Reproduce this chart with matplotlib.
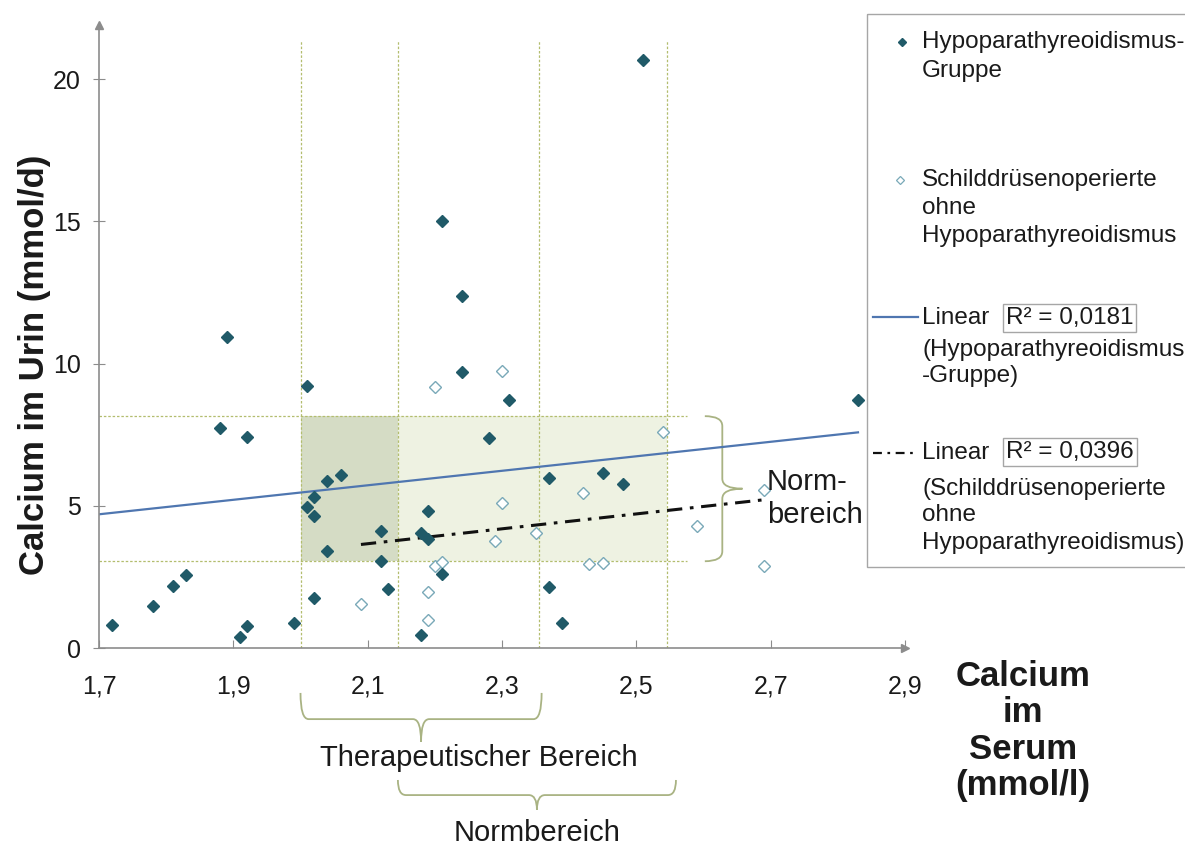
import numpy as np
import matplotlib.pyplot as plt
from matplotlib.path import Path
from matplotlib.patches import PathPatch, Rectangle

plt.rcParams['font.family'] = ['Liberation Sans', 'DejaVu Sans']

# Hypoparathyreoidismus-Gruppe (serum, urine)
hypo_x = [1.72, 1.78, 1.81, 1.83, 1.88, 1.89, 1.91, 1.92, 1.92, 1.99,
          2.01, 2.01, 2.02, 2.02, 2.02, 2.04, 2.04, 2.06, 2.12, 2.12,
          2.13, 2.18, 2.18, 2.19, 2.19, 2.21, 2.21, 2.24, 2.24, 2.28,
          2.31, 2.37, 2.37, 2.39, 2.45, 2.48, 2.51, 2.83]
hypo_y = [0.81, 1.48, 2.19, 2.57, 7.72, 10.94, 0.38, 0.78, 7.40, 0.87,
          9.21, 4.94, 5.32, 4.65, 1.75, 5.88, 3.40, 6.08, 4.12, 3.05,
          2.06, 4.03, 0.46, 4.83, 3.82, 2.60, 15.01, 12.38, 9.71, 7.38,
          8.72, 5.96, 2.15, 0.89, 6.16, 5.75, 20.67, 8.72]

# Schilddruesenoperierte ohne Hypoparathyreoidismus
schild_x = [2.09, 2.19, 2.19, 2.20, 2.21, 2.20, 2.29, 2.30, 2.30, 2.35,
            2.42, 2.43, 2.45, 2.54, 2.59, 2.69, 2.69]
schild_y = [1.53, 0.98, 1.98, 2.88, 3.03, 9.16, 3.76, 5.11, 9.75, 4.03,
            5.46, 2.94, 2.98, 7.60, 4.30, 5.55, 2.88]

# linear trend of the Hypoparathyreoidismus group as shown (start, end)
trend_hypo_x = [1.70, 2.83]
trend_hypo_y = [4.70, 7.58]

x_ticks = [1.7, 1.9, 2.1, 2.3, 2.5, 2.7, 2.9]
x_tick_labels = ['1,7', '1,9', '2,1', '2,3', '2,5', '2,7', '2,9']
y_ticks = [0, 5, 10, 15, 20]

ther_range = (2.0, 2.355)      # therapeutischer Bereich (Serum)
norm_serum = (2.145, 2.545)    # Normbereich (Serum)
norm_urin = (3.05, 8.15)       # Normbereich (Urin)
r2_labels = ['R\u00b2 = 0,0181', 'R\u00b2 = 0,0396']

W, H = 1185, 848
dark = '#205a68'
light = '#7aa9b8'
blue = '#4f76b0'
olive = '#b3bd6e'
brace_col = '#a9b383'
grey = '#8c8c8c'
txt = '#1a1a1a'

fig = plt.figure(figsize=(W / 100, H / 100), dpi=100)
ax = fig.add_axes([99 / W, 1 - 648 / H, (905 - 99) / W, (648 - 25) / H])
ax.set_xlim(1.7, 2.9)
ax.set_ylim(0, 21.9)

# shaded ranges
ax.add_patch(Rectangle((norm_serum[0], norm_urin[0]), norm_serum[1] - norm_serum[0],
                       norm_urin[1] - norm_urin[0], color='#eef2e2', lw=0, zorder=0))
ax.add_patch(Rectangle((ther_range[0], norm_urin[0]), norm_serum[0] - ther_range[0],
                       norm_urin[1] - norm_urin[0], color='#d5dcc5', lw=0, zorder=0))
for xv in [ther_range[0], norm_serum[0], ther_range[1], norm_serum[1]]:
    ax.plot([xv, xv], [0, 21.35], ls=(0, (2, 1.5)), color=olive, lw=0.9, zorder=1)
for yv in norm_urin:
    ax.plot([1.7, 2.575], [yv, yv], ls=(0, (2, 1.5)), color=olive, lw=0.9, zorder=1)

# trend lines
ax.plot(trend_hypo_x, trend_hypo_y, color=blue, lw=1.6, zorder=2)
c2 = np.polyfit(schild_x, schild_y, 1)
xs2 = np.array([min(schild_x), max(schild_x)])
ax.plot(xs2, np.polyval(c2, xs2), color='#111111', lw=2.2, ls=(0, (5, 2.5, 1.2, 2.5)), zorder=2)

# points
ax.plot(schild_x, schild_y, 'D', ls='none', ms=5.8, mfc='white', mec=light, mew=1, zorder=3)
ax.plot(hypo_x, hypo_y, 'D', ls='none', ms=6.5, color=dark, zorder=4)

# axes styling
for s in ['top', 'right']:
    ax.spines[s].set_visible(False)
for s in ['left', 'bottom']:
    ax.spines[s].set_color(grey)
    ax.spines[s].set_linewidth(1.2)
ax.plot([1.7], [21.9], '^', ms=6, color=grey, clip_on=False)
ax.plot([2.9], [0], '>', ms=6, color=grey, clip_on=False)
ax.set_xticks(x_ticks)
ax.set_xticklabels(x_tick_labels)
ax.set_yticks(y_ticks)
ax.tick_params(axis='x', direction='in', length=6, color=grey, labelsize=18, pad=19, labelcolor=txt)
ax.tick_params(axis='y', direction='inout', length=8, color=grey, labelsize=18, pad=9, labelcolor=txt)


def brace(x0, x1, ytop, ybar, ytip, dx=0.012):
    xm = (x0 + x1) / 2
    verts = [(x0, ytop), (x0, ybar), (x0 + dx, ybar), (xm - dx, ybar),
             (xm, ybar), (xm, ytip), (xm, ybar), (xm + dx, ybar),
             (x1 - dx, ybar), (x1, ybar), (x1, ytop)]
    codes = [Path.MOVETO, Path.CURVE3, Path.CURVE3, Path.LINETO,
             Path.CURVE3, Path.CURVE3, Path.CURVE3, Path.CURVE3,
             Path.LINETO, Path.CURVE3, Path.CURVE3]
    ax.add_patch(PathPatch(Path(verts, codes), fill=False, ec=brace_col, lw=1.3, clip_on=False))


brace(ther_range[0], ther_range[1] + 0.004, -1.58, -2.5, -3.3)
brace(norm_serum[0], norm_serum[1] + 0.014, -4.64, -5.17, -5.69)
ax.text(2.265, -3.87, 'Therapeutischer Bereich', fontsize=21, ha='center', va='center', color=txt)
ax.text(2.352, -6.5, 'Normbereich', fontsize=21, ha='center', va='center', color=txt)

# right brace for urine norm range
yb0, yb1 = norm_urin
ym = (yb0 + yb1) / 2
xa, xb, xc = 2.602, 2.628, 2.658
dy = 0.35
verts = [(xa, yb1), (xb, yb1), (xb, yb1 - dy), (xb, ym + dy), (xb, ym), (xc, ym),
         (xb, ym), (xb, ym - dy), (xb, yb0 + dy), (xb, yb0), (xa, yb0)]
codes = [Path.MOVETO, Path.CURVE3, Path.CURVE3, Path.LINETO, Path.CURVE3, Path.CURVE3,
         Path.CURVE3, Path.CURVE3, Path.LINETO, Path.CURVE3, Path.CURVE3]
ax.add_patch(PathPatch(Path(verts, codes), fill=False, ec=brace_col, lw=1.3, clip_on=False))
ax.text(2.694, 5.25, 'Norm-\nbereich', fontsize=21, ha='left', va='center',
        linespacing=1.2, color=txt)

# axis titles
fig.text(35 / W, 1 - 365 / H, 'Calcium im Urin (mmol/d)', rotation=90, fontsize=25,
         fontweight='bold', ha='center', va='center', color=txt)
fig.text(1023 / W, 1 - 731 / H, 'Calcium\nim\nSerum\n(mmol/l)', fontsize=25,
         fontweight='bold', ha='center', va='center', linespacing=1.12, color=txt)

# legend (pixel coordinates)
lax = fig.add_axes([0, 0, 1, 1], zorder=5)
lax.set_xlim(0, W)
lax.set_ylim(H, 0)
lax.axis('off')
lax.add_patch(Rectangle((867, 14), 330, 553, fill=False, ec='#a6a6a6', lw=1))
lax.plot(902, 42, 'D', ms=4.5, color=dark)
lax.plot(900, 180, 'D', ms=4.5, mfc='white', mec=light, mew=0.9)
lax.plot([873, 918], [317, 317], color=blue, lw=1.6)
lax.plot([873, 918], [453, 453], color='#111111', lw=1.6, ls=(0, (4, 2.5, 1.2, 2.5)))
legend_lines = [(42, 'Hypoparathyreoidismus-'), (71, 'Gruppe'),
                (180, 'Schilddrüsenoperierte'), (208, 'ohne'), (236, 'Hypoparathyreoidismus'),
                (318, 'Linear'), (350, '(Hypoparathyreoidismus'), (376, '-Gruppe)'),
                (453, 'Linear'), (489, '(Schilddrüsenoperierte'), (515, 'ohne'),
                (543, 'Hypoparathyreoidismus)')]
for yy, s in legend_lines:
    lax.text(922, yy, s, fontsize=17.5, ha='left', va='center', color=txt)
for yy, s in zip([318, 452], r2_labels):
    lax.text(1006, yy, s, fontsize=17.5, ha='left', va='center', color=txt,
             bbox=dict(boxstyle='square,pad=0.12', fc='white', ec='#a6a6a6', lw=1))

fig.savefig('out.png', dpi=100)
